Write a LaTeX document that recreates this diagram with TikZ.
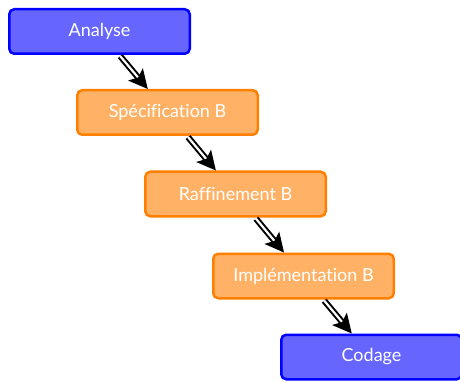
\documentclass[tikz,border=0pt]{standalone}
\usepackage{fontspec}
\setmainfont[Ligatures=NoCommon]{Lato}
\usetikzlibrary{arrows.meta}
\tikzset{
  stage/.style={draw, rounded corners=5pt, line width=2.5pt, text=white,
    minimum width=180.5pt, minimum height=44.5pt, inner sep=0pt,
    font=\fontsize{18}{21}\selectfont},
  bluestage/.style={stage, draw=blue, fill=blue!60},
  orangestage/.style={stage, draw=orange, fill=orange!60},
  flow/.style={draw=black, line width=2pt, double=white, double distance=2.2pt,
    -{Stealth[length=19pt, width=19pt, inset=4pt]}, shorten <=1.5pt}
}
\begin{document}
\begin{tikzpicture}[x=1pt, y=-1pt]
  \useasboundingbox (0,0) rectangle (460,382);
  \node[bluestage]   (ana)  at (99.5,31.5)  {Analyse};
  \node[orangestage] (spec) at (167.5,112.5) {Spécification B};
  \node[orangestage] (raf)  at (235.5,194)   {Raffinement B};
  \node[orangestage] (impl) at (303.5,276)   {Implémentation B};
  \node[bluestage]   (cod)  at (371.5,357)   {Codage};
  \draw[flow] (ana)  -- (spec);
  \draw[flow] (spec) -- (raf);
  \draw[flow] (raf)  -- (impl);
  \draw[flow] (impl) -- (cod);
\end{tikzpicture}
\end{document}
